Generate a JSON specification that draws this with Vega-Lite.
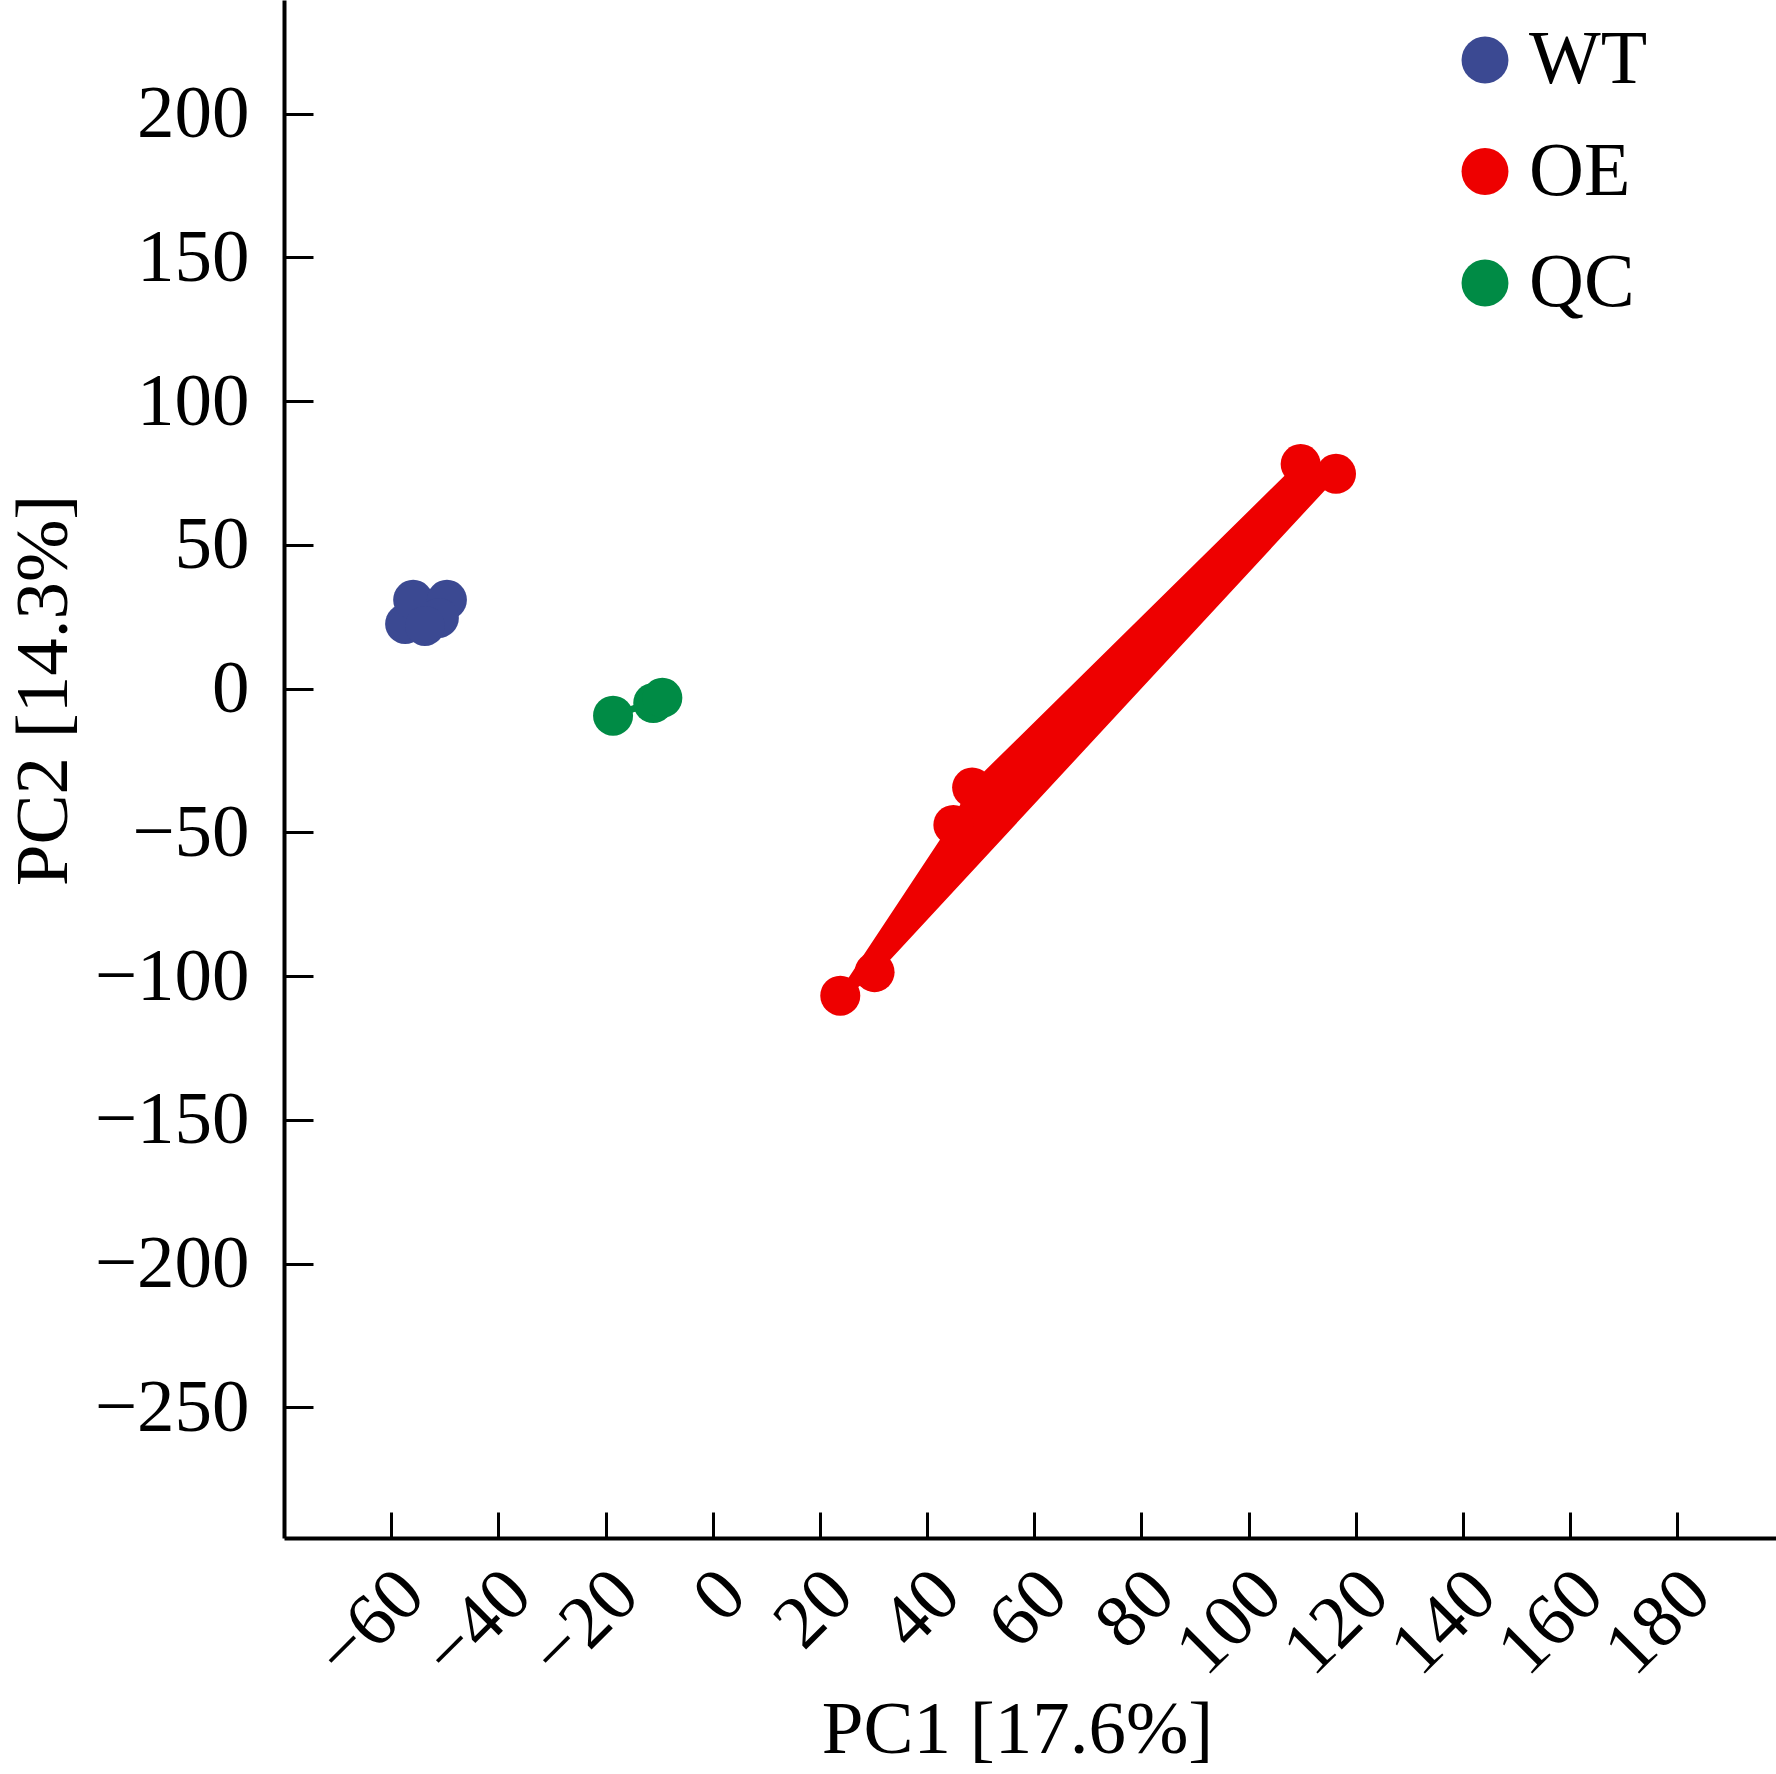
{
  "$schema": "https://vega.github.io/schema/vega-lite/v6.json",
  "width": 1492,
  "height": 1538,
  "autosize": "none",
  "padding": {"left": 284, "top": 0, "right": 0, "bottom": 236},
  "background": "white",
  "data": {
    "values": [
      {"sample": "WT1", "group": "WT", "pc1": -57.4, "pc2": 22.5, "hull": 1},
      {"sample": "WT2", "group": "WT", "pc1": -55.9, "pc2": 30.9, "hull": 2},
      {"sample": "WT3", "group": "WT", "pc1": -49.6, "pc2": 30.9, "hull": 3},
      {"sample": "WT4", "group": "WT", "pc1": -51.1, "pc2": 24.6, "hull": 4},
      {"sample": "WT5", "group": "WT", "pc1": -53.7, "pc2": 21.8, "hull": 5},
      {"sample": "OE1", "group": "OE", "pc1": 23.8, "pc2": -106.8, "hull": 1},
      {"sample": "OE2", "group": "OE", "pc1": 44.9, "pc2": -47.4, "hull": 2},
      {"sample": "OE3", "group": "OE", "pc1": 48.4, "pc2": -34.4, "hull": 3},
      {"sample": "OE4", "group": "OE", "pc1": 109.7, "pc2": 78.1, "hull": 4},
      {"sample": "OE5", "group": "OE", "pc1": 116.3, "pc2": 74.7, "hull": 5},
      {"sample": "OE6", "group": "OE", "pc1": 30.2, "pc2": -98.6, "hull": 6},
      {"sample": "QC1", "group": "QC", "pc1": -18.6, "pc2": -9.4, "hull": 1},
      {"sample": "QC2", "group": "QC", "pc1": -11.1, "pc2": -5.0, "hull": 2},
      {"sample": "QC3", "group": "QC", "pc1": -9.4, "pc2": -3.2, "hull": 3}
    ]
  },
  "encoding": {
    "x": {
      "field": "pc1",
      "type": "quantitative",
      "title": "PC1 [17.6%]",
      "scale": {"domain": [-80, 198.4], "nice": false, "zero": false},
      "axis": {
        "values": [-60, -40, -20, 0, 20, 40, 60, 80, 100, 120, 140, 160, 180],
        "tickSize": -26,
        "labelAngle": -45,
        "labelAlign": "right",
        "labelBaseline": "middle",
        "labelPadding": 70,
        "labelOffset": 20,
        "labelOverlap": false,
        "titleX": 733,
        "titleY": 214,
        "titleAlign": "center",
        "titleBaseline": "alphabetic"
      }
    },
    "y": {
      "field": "pc2",
      "type": "quantitative",
      "title": "PC2 [14.3%]",
      "scale": {"domain": [-295.4, 239.5], "nice": false, "zero": false},
      "axis": {
        "values": [-250, -200, -150, -100, -50, 0, 50, 100, 150, 200],
        "tickSize": -29,
        "labelPadding": 64,
        "labelAlign": "right",
        "labelBaseline": "middle",
        "labelOverlap": false,
        "titleAngle": -90,
        "titleX": -218,
        "titleY": 690,
        "titleAlign": "center",
        "titleBaseline": "alphabetic"
      }
    },
    "color": {
      "field": "group",
      "type": "nominal",
      "scale": {"domain": ["WT", "OE", "QC"], "range": ["#3B4992", "#EE0000", "#008B45"]},
      "legend": {
        "title": null,
        "orient": "none",
        "legendX": 1163,
        "legendY": 22,
        "symbolType": "circle",
        "symbolSize": 2200,
        "symbolOpacity": 1,
        "symbolStrokeWidth": 0,
        "labelFont": "Liberation Serif",
        "labelFontSize": 76,
        "labelColor": "black",
        "labelOffset": 6,
        "rowPadding": 35.5,
        "padding": 0
      }
    }
  },
  "layer": [
    {
      "mark": {"type": "line", "interpolate": "linear-closed", "filled": true},
      "encoding": {
        "order": {"field": "hull", "type": "quantitative"}
      }
    },
    {
      "mark": {"type": "line", "interpolate": "linear-closed", "strokeWidth": 6, "strokeJoin": "round"},
      "encoding": {
        "order": {"field": "hull", "type": "quantitative"}
      }
    },
    {
      "mark": {"type": "point", "filled": true, "size": 1600, "opacity": 1, "strokeWidth": 0}
    }
  ],
  "config": {
    "view": {"stroke": null},
    "axis": {
      "grid": false,
      "domainColor": "black",
      "domainWidth": 4,
      "tickColor": "black",
      "tickWidth": 3,
      "labelFont": "Liberation Serif",
      "labelFontSize": 75,
      "labelColor": "black",
      "titleFont": "Liberation Serif",
      "titleFontSize": 75,
      "titleFontWeight": "normal",
      "titleColor": "black"
    }
  }
}
